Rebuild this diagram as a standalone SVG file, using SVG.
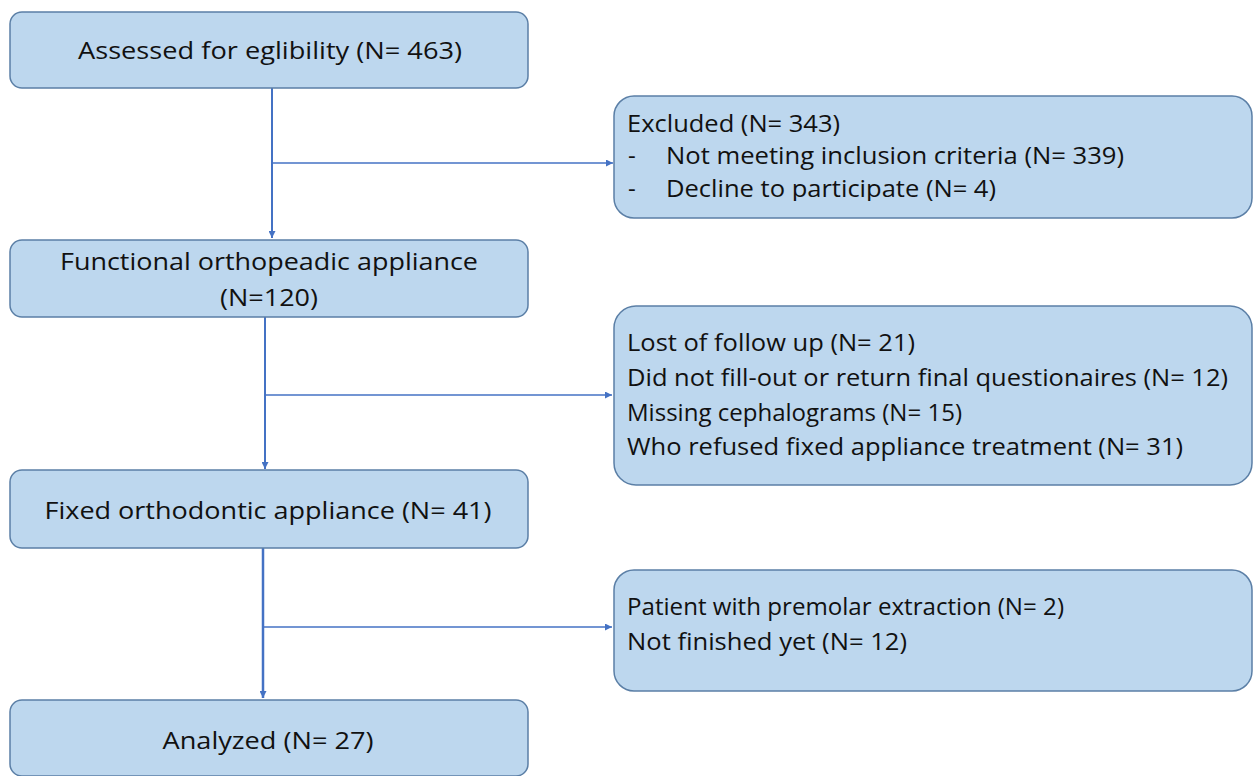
<svg xmlns="http://www.w3.org/2000/svg" width="1254" height="776" viewBox="0 0 1254 776">
<style>
.box{fill:#bdd7ee;stroke:#5b7fa6;stroke-width:1.5}
.t{font-family:"Open Sans","Liberation Sans",sans-serif;font-size:24px;fill:#111111}
.c{text-anchor:middle}
.ln{stroke:#4472c4;fill:none}
</style>
<defs>
<marker id="ah" viewBox="0 0 10 10" refX="10" refY="5" markerWidth="8" markerHeight="7" markerUnits="userSpaceOnUse" orient="auto">
<path d="M0,0 L10,5 L0,10 z" fill="#4472c4"/>
</marker>
<clipPath id="clipDecl"><rect x="600" y="170" width="500" height="31"/></clipPath>
</defs>
<rect width="1254" height="776" fill="#ffffff"/>
<g id="connectors">
<path class="ln" stroke-width="2" d="M272,88 V238" marker-end="url(#ah)"/>
<path class="ln" stroke-width="1.5" d="M272,163 H613" marker-end="url(#ah)"/>
<path class="ln" stroke-width="2" d="M265,317 V469" marker-end="url(#ah)"/>
<path class="ln" stroke-width="1.5" d="M265,395 H612" marker-end="url(#ah)"/>
<path class="ln" stroke-width="2.5" d="M263,548 V698" marker-end="url(#ah)"/>
<path class="ln" stroke-width="1.5" d="M263,627 H612" marker-end="url(#ah)"/>
</g>
<g id="assessed">
<rect class="box" x="10" y="12" width="518" height="76" rx="12"/>
<text class="t c" x="270" y="59" textLength="384" lengthAdjust="spacingAndGlyphs">Assessed for eglibility (N= 463)</text>
</g>
<g id="functional">
<rect class="box" x="10" y="240" width="518" height="77" rx="12"/>
<text class="t c" x="269" y="270" textLength="418" lengthAdjust="spacingAndGlyphs">Functional orthopeadic appliance</text>
<text class="t c" x="269" y="306" textLength="98" lengthAdjust="spacingAndGlyphs">(N=120)</text>
</g>
<g id="fixed">
<rect class="box" x="10" y="470" width="518" height="78" rx="12"/>
<text class="t c" x="268" y="519" textLength="447" lengthAdjust="spacingAndGlyphs">Fixed orthodontic appliance (N= 41)</text>
</g>
<g id="analyzed">
<rect class="box" x="10" y="700" width="518" height="76" rx="12"/>
<text class="t c" x="268" y="749" textLength="211" lengthAdjust="spacingAndGlyphs">Analyzed (N= 27)</text>
</g>
<g id="excluded">
<rect class="box" x="614" y="96" width="638" height="122" rx="20"/>
<text class="t" x="627" y="132" textLength="213" lengthAdjust="spacingAndGlyphs">Excluded (N= 343)</text>
<text class="t" x="628" y="164">-</text>
<text class="t" x="666" y="164" textLength="458" lengthAdjust="spacingAndGlyphs">Not meeting inclusion criteria (N= 339)</text>
<text class="t" x="628" y="197">-</text>
<text class="t" x="666" y="197" textLength="330" lengthAdjust="spacingAndGlyphs" clip-path="url(#clipDecl)">Decline to participate (N= 4)</text>
</g>
<g id="lost">
<rect class="box" x="614" y="306" width="638" height="179" rx="22"/>
<text class="t" x="627" y="351" textLength="288" lengthAdjust="spacingAndGlyphs">Lost of follow up (N= 21)</text>
<text class="t" x="627" y="386" textLength="601" lengthAdjust="spacingAndGlyphs">Did not fill-out or return final questionaires (N= 12)</text>
<text class="t" x="627" y="421" textLength="335" lengthAdjust="spacingAndGlyphs">Missing cephalograms (N= 15)</text>
<text class="t" x="627" y="455" textLength="556" lengthAdjust="spacingAndGlyphs">Who refused fixed appliance treatment (N= 31)</text>
</g>
<g id="patient">
<rect class="box" x="614" y="570" width="638" height="121" rx="20"/>
<text class="t" x="627" y="615" textLength="437" lengthAdjust="spacingAndGlyphs">Patient with premolar extraction (N= 2)</text>
<text class="t" x="627" y="650" textLength="280" lengthAdjust="spacingAndGlyphs">Not finished yet (N= 12)</text>
</g>
</svg>
